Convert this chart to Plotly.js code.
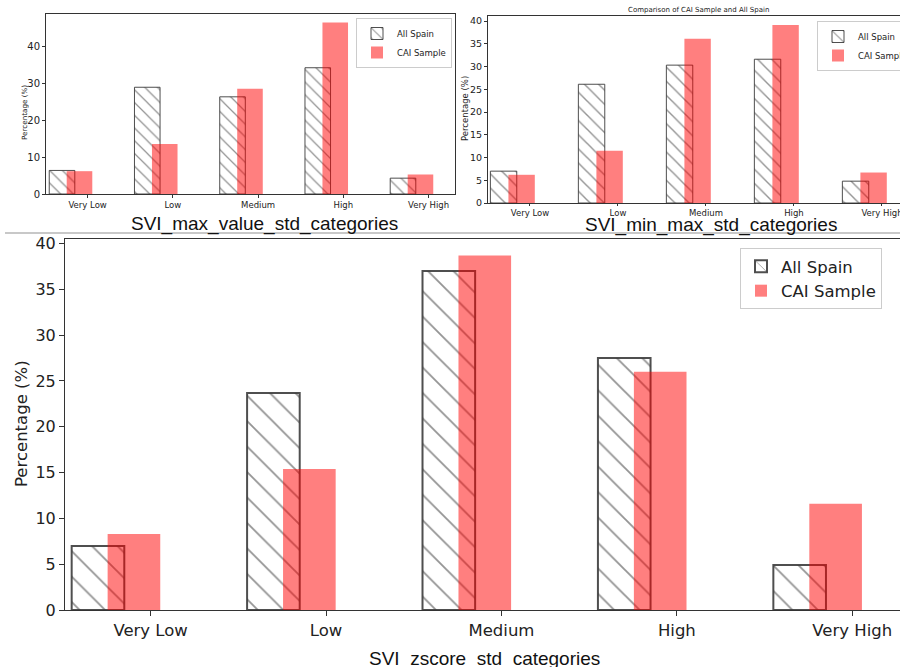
<!DOCTYPE html>
<html><head><meta charset="utf-8">
<script src="https://cdn.plot.ly/plotly-3.0.1.min.js"></script>
<style>html,body{margin:0;padding:0;background:#fff;overflow:hidden}#chart{width:900px;height:667px}</style>
</head><body><div id="chart"></div>
<script>
// ---- data ----
const categories = ["Very Low", "Low", "Medium", "High", "Very High"];
const seriesNames = ["All Spain", "CAI Sample"];
const maxValueAllSpain = [6.4, 29.0, 26.4, 34.3, 4.3];
const maxValueCAI      = [6.2, 13.6, 28.6, 46.6, 5.3];
const minMaxAllSpain   = [7.0, 26.1, 30.3, 31.6, 4.8];
const minMaxCAI        = [6.2, 11.5, 36.1, 39.1, 6.7];
const zscoreAllSpain   = [7.0, 23.7, 37.0, 27.5, 4.9];
const zscoreCAI        = [8.3, 15.4, 38.7, 26.0, 11.6];
const panelTitles = ["SVI_max_value_std_categories", "SVI_min_max_std_categories", "SVI_zscore_std_categories"];
const topRightTitle = "Comparison of CAI Sample and All Spain";
const yTitle = "Percentage (%)";

// ---- helpers ----
const W = 900, H = 667;
const fx = p => p / W;
const fy = p => 1 - p / H;
const FONT = "DejaVu Sans, sans-serif";

function pair(xa, ya, legend, allVals, caiVals, hatch, edgeW, solid) {
  return [
    {
      type: "bar", x: categories, y: allVals, name: seriesNames[0],
      xaxis: xa, yaxis: ya, legend: legend,
      offset: -0.45, width: 0.3,
      marker: {
        color: "rgba(255,255,255,0)",
        line: {color: "rgba(60,60,60,0.9)", width: edgeW},
        pattern: {shape: "\\", size: hatch, solidity: solid, fgcolor: "#2a2a2a", fillmode: "overlay"}
      },
      hoverinfo: "x+y+name"
    },
    {
      type: "bar", x: categories, y: caiVals, name: seriesNames[1],
      xaxis: xa, yaxis: ya, legend: legend,
      offset: -0.245, width: 0.3,
      marker: {color: "rgba(255,0,0,0.5)", line: {width: 0}},
      hoverinfo: "x+y+name"
    }
  ];
}

const data = [
  ...pair("x", "y", "legend", maxValueAllSpain, maxValueCAI, 9, 1, 0.14),
  ...pair("x2", "y2", "legend2", minMaxAllSpain, minMaxCAI, 10, 1, 0.14),
  ...pair("x3", "y3", "legend3", zscoreAllSpain, zscoreCAI, 18, 2, 0.1)
];

function xax(domain, range, anchor, fs, tl) {
  return {domain, range, anchor, type: "category", showline: true, mirror: true,
    linecolor: "#333", linewidth: 1, ticks: "outside", ticklen: tl, tickcolor: "#333",
    showgrid: false, zeroline: false, fixedrange: true, automargin: false,
    tickfont: {family: FONT, size: fs, color: "#222"}};
}
function yax(domain, range, anchor, dtick, fs, tl, mirror) {
  return {domain, range, anchor, dtick, showline: true, mirror: mirror,
    linecolor: "#333", linewidth: 1, ticks: "outside", ticklen: tl, tickcolor: "#333",
    showgrid: false, zeroline: false, fixedrange: true, automargin: false,
    tickfont: {family: FONT, size: fs, color: "#222"}};
}

const legendBase = {bgcolor: "rgba(255,255,255,0.9)", bordercolor: "#ccc", borderwidth: 1,
  tracegroupgap: 0, itemclick: false, itemdoubleclick: false};

const layout = {
  width: W, height: H,
  margin: {l: 0, r: 0, t: 0, b: 0, pad: 0, autoexpand: false},
  paper_bgcolor: "#fff", plot_bgcolor: "#fff",
  barmode: "overlay",
  xaxis: xax([fx(46), fx(455)], [-0.488, 4.31], "y", 8.5, 3),
  yaxis: yax([fy(194), fy(14)], [0, 48.9], "x", 10, 10, 3, true),
  xaxis2: xax([fx(488), 1], [-0.477, 4.205], "y2", 8.5, 2),
  yaxis2: yax([fy(203), fy(16)], [0, 41.1], "x2", 5, 9.5, 3, false),
  xaxis3: xax([fx(65), 1], [-0.488, 4.272], "y3", 16.5, 5),
  yaxis3: yax([fy(610), fy(239)], [0, 40.5], "x3", 5, 16, 5, false),
  legend: {...legendBase, x: fx(452), xanchor: "right", y: fy(18), yanchor: "top",
    font: {family: FONT, size: 8.5, color: "#222"}},
  legend2: {...legendBase, x: fx(817), xanchor: "left", y: fy(21), yanchor: "top",
    font: {family: FONT, size: 8.5, color: "#222"}},
  legend3: {...legendBase, x: fx(740), xanchor: "left", y: fy(248), yanchor: "top",
    font: {family: FONT, size: 16.5, color: "#222"}},
  annotations: [
    {text: panelTitles[0], xref: "paper", yref: "paper", x: fx(264), y: fy(224), showarrow: false,
      xanchor: "center", yanchor: "middle", font: {family: "Liberation Sans, Arial, sans-serif", size: 19, color: "#111"}},
    {text: panelTitles[1], xref: "paper", yref: "paper", x: fx(711), y: fy(225), showarrow: false,
      xanchor: "center", yanchor: "middle", font: {family: "Liberation Sans, Arial, sans-serif", size: 19, color: "#111"}},
    {text: panelTitles[2], xref: "paper", yref: "paper", x: fx(484), y: fy(659), showarrow: false,
      xanchor: "center", yanchor: "middle", font: {family: "Liberation Sans, Arial, sans-serif", size: 19, color: "#111"}},
    {text: topRightTitle, xref: "paper", yref: "paper", x: fx(698), y: fy(10), showarrow: false,
      xanchor: "center", yanchor: "middle", font: {family: FONT, size: 7, color: "#222"}},
    {text: yTitle, xref: "paper", yref: "paper", x: fx(25), y: fy(113), showarrow: false, textangle: -90,
      xanchor: "center", yanchor: "middle", font: {family: FONT, size: 7.2, color: "#222"}},
    {text: yTitle, xref: "paper", yref: "paper", x: fx(465), y: fy(109), showarrow: false, textangle: -90,
      xanchor: "center", yanchor: "middle", font: {family: FONT, size: 8.5, color: "#222"}},
    {text: yTitle, xref: "paper", yref: "paper", x: fx(21), y: fy(424), showarrow: false, textangle: -90,
      xanchor: "center", yanchor: "middle", font: {family: FONT, size: 16.5, color: "#222"}}
  ],
  shapes: [
    {type: "line", xref: "paper", yref: "paper", x0: fx(5), x1: 1, y0: fy(233), y1: fy(233),
      line: {color: "#c8c8c8", width: 2}}
  ],
  showlegend: true
};

Plotly.newPlot("chart", data, layout, {displayModeBar: false});
</script>
</body></html>
